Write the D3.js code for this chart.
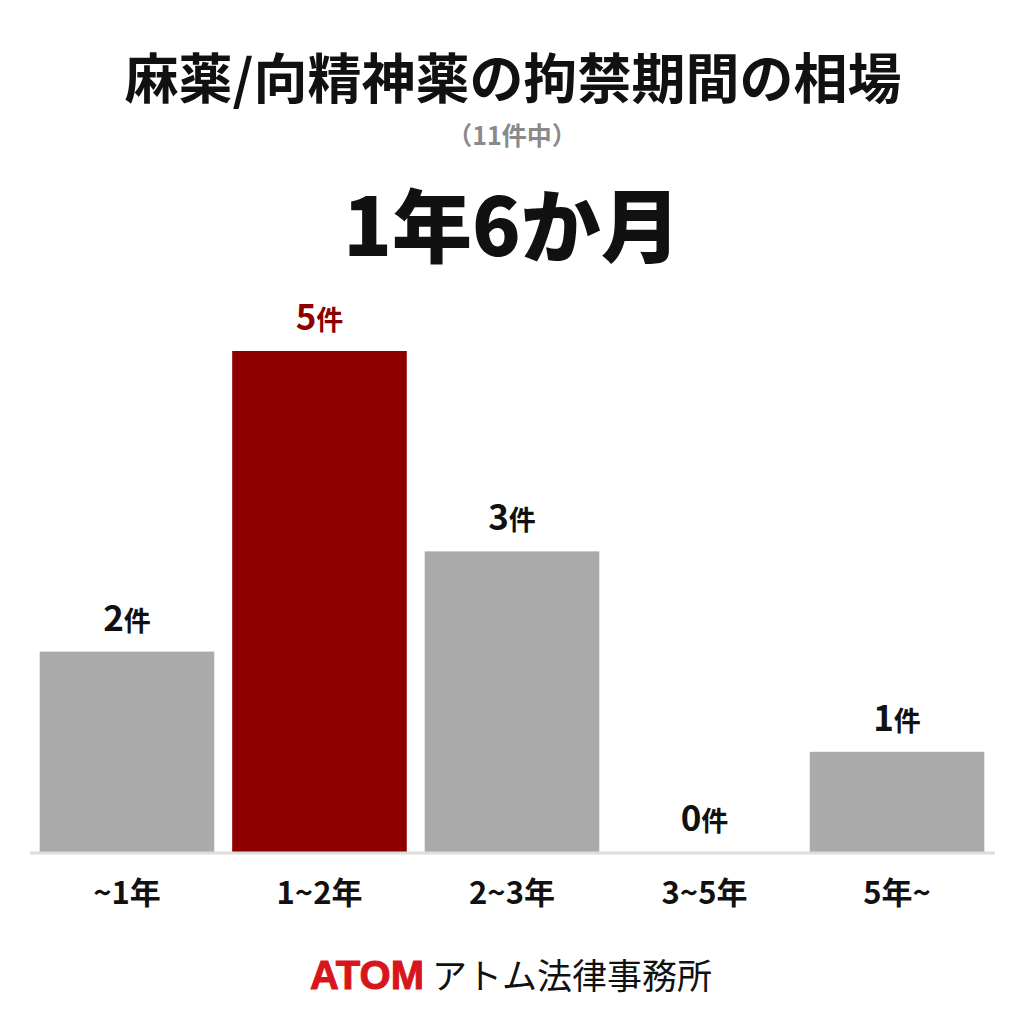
<!DOCTYPE html>
<html><head><meta charset="utf-8">
<script src="https://cdn.jsdelivr.net/npm/d3@7"></script>
<style>body{margin:0;background:#fff}</style>
</head><body>
<svg id="c" width="1024" height="1024"></svg>
<script>
const categories = ["~1年","1~2年","2~3年","3~5年","5年~"];
const counts = [2,5,3,0,1];
const valueLabels = ["2件","5件","3件","0件","1件"];
const highlight = "1~2年";
const titleText = "麻薬/向精神薬の拘禁期間の相場";
const subtitleText = "（11件中）";
const headlineText = "1年6か月";

const svg = d3.select("#c");
const font = "'Noto Sans CJK JP','Noto Sans',sans-serif";
svg.append("rect").attr("width",1024).attr("height",1024).attr("fill","#fff");

const x = d3.scaleBand().domain(categories).range([31,993]).paddingInner(0.093).paddingOuter(0.045);
const y = d3.scaleLinear().domain([0,5]).range([852,351]);

svg.append("text").attr("x",513).attr("y",99).attr("text-anchor","middle")
  .attr("font-family",font).attr("font-weight",700).attr("font-size",54).attr("fill","#111").text(titleText);
svg.append("text").attr("x",512).attr("y",145).attr("text-anchor","middle")
  .attr("font-family",font).attr("font-weight",700).attr("font-size",25).attr("fill","#8a8a8a").text(subtitleText);
svg.append("text").attr("x",512).attr("y",256).attr("text-anchor","middle")
  .attr("font-family",font).attr("font-weight",900).attr("font-size",80).attr("fill","#111").text(headlineText);

const g = svg.append("g");
g.selectAll("rect.bar").data(categories).join("rect").attr("class","bar")
  .attr("x",d=>x(d)).attr("width",x.bandwidth())
  .attr("y",(d,i)=>y(counts[i])).attr("height",(d,i)=>y(0)-y(counts[i]))
  .attr("fill",d=>d===highlight?"#8e0000":"#aaaaaa");

g.append("line").attr("x1",30).attr("x2",995).attr("y1",853).attr("y2",853)
  .attr("stroke","#dddddd").attr("stroke-width",3);

g.selectAll("text.val").data(categories).join("text").attr("class","val")
  .attr("x",d=>x(d)+x.bandwidth()/2).attr("y",(d,i)=>y(counts[i])-21)
  .attr("text-anchor","middle").attr("font-family",font).attr("font-weight",700)
  .attr("fill",d=>d===highlight?"#8e0000":"#111")
  .each(function(d,i){
    const t=d3.select(this); const s=valueLabels[i];
    t.append("tspan").attr("font-size",35).text(s.slice(0,-1));
    t.append("tspan").attr("font-size",27).text(s.slice(-1));
  });

const xAxis = d3.axisBottom(x).tickSize(0).tickPadding(0);
const ax = g.append("g").attr("transform","translate(0,904)").call(xAxis);
ax.select(".domain").remove();
ax.selectAll("text").attr("font-family",font).attr("font-weight",700).attr("font-size",31).attr("fill","#111").attr("dy","0");

const foot = svg.append("text").attr("x",511).attr("y",989).attr("text-anchor","middle").attr("font-family",font).attr("font-size",35);
foot.append("tspan").attr("font-family","'Liberation Sans',Arial,sans-serif").attr("font-weight",700).attr("fill","#d8141c").attr("font-size",40).attr("stroke","#d8141c").attr("stroke-width",1).text("ATOM");
foot.append("tspan").attr("dx",8).attr("font-weight",400).attr("fill","#111").text("アトム法律事務所");
</script>
</body></html>
